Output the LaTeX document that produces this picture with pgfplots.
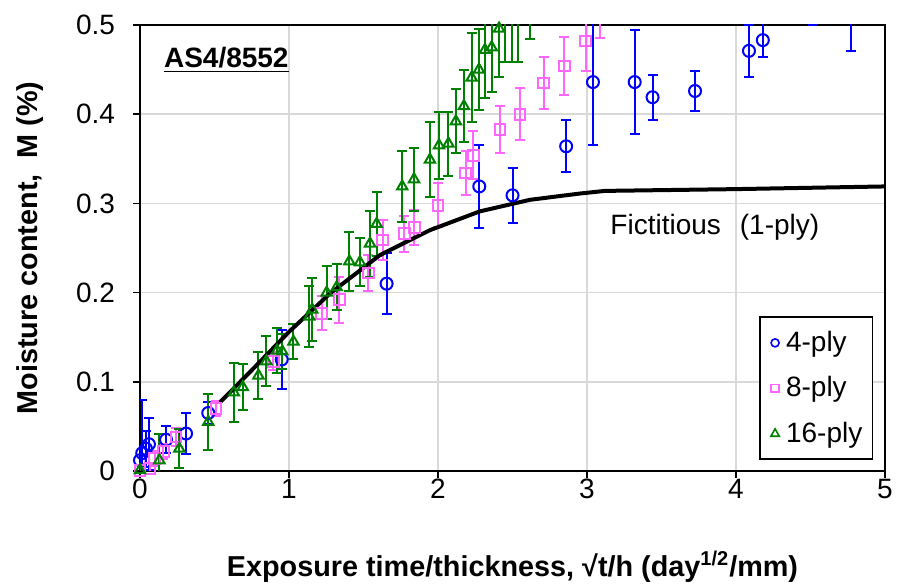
\documentclass[border=0pt]{standalone}
\usepackage{fontspec}
\setmainfont{Liberation Sans}
\usepackage{pgfplots}
\usepackage{pgfplotstable}
\pgfplotsset{compat=1.18}
\definecolor{PlyBlue}{RGB}{0,0,255}
\definecolor{PlyPink}{RGB}{255,102,255}
\definecolor{PlyGreen}{RGB}{0,128,0}
\definecolor{GridGray}{RGB}{217,217,217}

% x = sqrt(t)/h, y = M (%), e = error half-width
\pgfplotstableread{
x y e
0.000 0.012 0.015
0.015 0.020 0.060
0.040 0.025 0.020
0.060 0.030 0.029
0.175 0.035 0.015
0.309 0.042 0.023
0.458 0.065 0.012
0.951 0.125 0.033
1.655 0.210 0.034
2.277 0.319 0.047
2.500 0.309 0.031
2.860 0.364 0.029
3.040 0.436 0.071
3.320 0.436 0.058
3.440 0.419 0.025
3.725 0.426 0.022
4.087 0.471 0.029
4.180 0.483 0.019
4.520 0.520 0.020
4.770 0.510 0.039
}\fourply
\pgfplotstableread{
x y e
0.000 0.001 0.004
0.067 0.003 0.006
0.100 0.014 0.008
0.157 0.022 0.008
0.242 0.038 0.010
0.510 0.070 0.008
0.895 0.123 0.010
1.220 0.177 0.019
1.338 0.192 0.026
1.532 0.222 0.020
1.629 0.259 0.022
1.775 0.266 0.020
1.840 0.273 0.020
2.000 0.298 0.025
2.185 0.334 0.025
2.237 0.354 0.027
2.416 0.383 0.026
2.550 0.400 0.029
2.710 0.435 0.029
2.848 0.454 0.032
2.990 0.482 0.034
3.090 0.520 0.035
}\eightply
\pgfplotstableread{
x y e
0.000 0.001 0.005
0.130 0.012 0.030
0.264 0.025 0.022
0.458 0.055 0.031
0.630 0.088 0.033
0.690 0.094 0.026
0.795 0.107 0.026
0.848 0.123 0.028
0.920 0.135 0.025
0.955 0.134 0.020
1.030 0.145 0.020
1.136 0.173 0.034
1.156 0.181 0.035
1.253 0.200 0.030
1.320 0.206 0.026
1.405 0.235 0.033
1.476 0.234 0.027
1.544 0.255 0.037
1.588 0.277 0.036
1.760 0.319 0.040
1.839 0.327 0.035
1.946 0.349 0.042
2.007 0.365 0.038
2.070 0.367 0.036
2.120 0.392 0.036
2.174 0.409 0.040
2.226 0.441 0.050
2.275 0.450 0.045
2.315 0.472 0.054
2.360 0.475 0.050
2.410 0.496 0.054
2.450 0.510 0.052
2.494 0.510 0.052
2.540 0.510 0.052
2.620 0.520 0.036
}\sixteenply
\pgfplotstableread{
x y
0.537 0.077
0.750 0.113
1.000 0.156
1.275 0.199
1.610 0.242
1.946 0.270
2.280 0.291
2.617 0.304
2.950 0.311
3.120 0.314
4.000 0.316
5.000 0.319
}\fictitious

\pgfplotsset{
    ebar/.style={
        only marks,
        line width=1pt,
        mark options={fill=white, line width=1pt},
        error bars/y dir=both,
        error bars/y explicit,
        error bars/error bar style={line width=1pt},
        error bars/error mark options={line width=1pt, mark size=2.5pt, rotate=90}
    }
}

\begin{document}
\begin{tikzpicture}
\begin{axis}[
    scale only axis,
    width=372.5pt, height=223pt,
    xmin=0, xmax=5, ymin=0, ymax=0.5,
    xtick={0,1,2,3,4,5},
    ytick={0,0.1,0.2,0.3,0.4,0.5},
    tick pos=left,
    tick align=outside,
    major tick length=3.5pt,
    tick style={line width=0.75pt, black},
    axis line style={line width=1pt},
    grid=major,
    grid style={line width=0.75pt, GridGray},
    /pgf/number format/assume math mode=true,
    tick label style={font=\fontsize{14}{16}\selectfont},
    yticklabel style={xshift=-5.5pt},
    xticklabel style={yshift=3pt},
    xlabel={Exposure time/thickness, √t/h (day\textsuperscript{1/2}/mm)},
    ylabel={Moisture content,\ \ M (\%)},
    label style={font=\fontsize{14.4}{16}\bfseries},
    xlabel style={at={(axis description cs:0.5,-0.215)}, anchor=center},
    ylabel style={at={(axis description cs:-0.1477,0.5)}, anchor=center},
    legend style={
        at={(0.984,0.025)}, anchor=south east,
        draw=black, line width=0.75pt,
        font=\fontsize{14}{16}\selectfont,
        nodes={inner sep=2pt},
        row sep=7pt, inner xsep=3pt, inner ysep=5pt,
        cells={anchor=west}
    },
]
\addplot+[ebar, color=PlyBlue, mark=o, mark size=3pt,
    legend image code/.code={
        \path[draw=none, fill=none] (0pt,-2.5pt) rectangle (8pt,2.5pt);
        \draw[PlyBlue, line width=0.8pt, fill=white] (4.5pt,0pt) circle (2pt);}]
    table[x=x, y=y, y error=e] {\fourply};
\addlegendentry{4-ply}
\addplot+[ebar, color=PlyPink, mark=square, mark size=2.7pt,
    legend image code/.code={
        \path[draw=none, fill=none] (0pt,-2.5pt) rectangle (8pt,2.5pt);
        \draw[PlyPink, line width=0.8pt, fill=white] (2.6pt,-1.9pt) rectangle (6.4pt,1.9pt);}]
    table[x=x, y=y, y error=e] {\eightply};
\addlegendentry{8-ply}
\addplot+[ebar, color=PlyGreen, mark=triangle, mark size=3pt,
    legend image code/.code={
        \path[draw=none, fill=none] (0pt,-2.5pt) rectangle (8pt,2.5pt);
        \draw[PlyGreen, line width=0.8pt, fill=white] (4.5pt,2.3pt) -- (2.4pt,-1.4pt) -- (6.6pt,-1.4pt) -- cycle;}]
    table[x=x, y=y, y error=e] {\sixteenply};
\addlegendentry{16-ply}
\addplot[black, line width=2pt, no marks] table[x=x, y=y] {\fictitious};

\node[anchor=west, font=\fontsize{14}{16}\selectfont] at (axis cs:3.11,0.2735) {Fictitious\hspace{9.5pt}(1-ply)};
\node[anchor=west, font=\fontsize{14}{16}\bfseries] at (axis cs:0.114,0.461) {\underline{AS4/8552}};

\coordinate (bl) at (rel axis cs:0,0);
\coordinate (tr) at (rel axis cs:1,1);
\end{axis}
\pgfresetboundingbox
\path ([shift={(-70pt,-57.5pt)}]bl) rectangle ([shift={(6pt,12.5pt)}]tr);
\end{tikzpicture}
\end{document}
